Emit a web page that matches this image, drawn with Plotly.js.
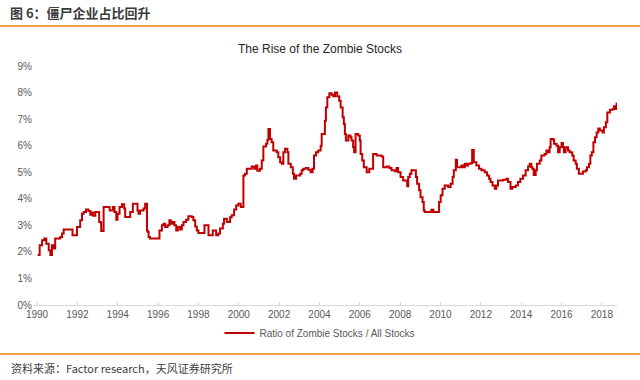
<!DOCTYPE html>
<html>
<head>
<meta charset="utf-8">
<script src="https://cdn.plot.ly/plotly-3.0.1.min.js"></script>
<style>html,body{margin:0;padding:0;background:#fff;}#chart{width:640px;height:380px;}</style>
</head>
<body>
<div id="chart"></div>
<script>
var years = [
1990.03,1990.13,1990.25,1990.36,1990.46,1990.58,1990.66,1990.74,1990.82,1990.90,
1991.15,1991.24,1991.32,1991.76,1991.98,1992.14,1992.23,1992.31,1992.43,1992.55,
1992.64,1992.72,1992.78,1992.89,1993.08,1993.17,1993.18,1993.30,1993.60,1993.76,
1993.84,1993.93,1993.99,1994.09,1994.21,1994.32,1994.37,1994.62,1994.75,1994.98,
1995.03,1995.11,1995.28,1995.36,1995.45,1995.49,1995.53,1995.60,1996.07,1996.19,
1996.27,1996.35,1996.47,1996.56,1996.63,1996.73,1996.81,1996.90,1996.98,1997.09,
1997.18,1997.26,1997.39,1997.50,1997.67,1997.75,1997.84,1997.92,1998.00,1998.30,
1998.50,1998.71,1998.88,1998.99,1999.07,1999.21,1999.27,1999.41,1999.57,1999.65,
1999.77,1999.87,1999.98,2000.10,2000.23,2000.31,2000.40,2000.64,2000.76,2000.86,
2000.92,2001.05,2001.14,2001.22,2001.35,2001.42,2001.47,2001.55,2001.63,2001.71,
2001.88,2001.96,2002.05,2002.13,2002.21,2002.29,2002.41,2002.46,2002.58,2002.68,
2002.74,2002.84,2003.04,2003.12,2003.20,2003.33,2003.45,2003.56,2003.66,2003.73,
2003.83,2003.94,2004.06,2004.11,2004.27,2004.32,2004.39,2004.49,2004.60,2004.68,
2004.77,2004.88,2004.98,2005.05,2005.15,2005.21,2005.26,2005.31,2005.43,2005.54,
2005.59,2005.67,2005.72,2005.79,2005.92,2006.00,2006.04,2006.12,2006.20,2006.34,
2006.47,2006.66,2006.83,2007.08,2007.16,2007.33,2007.46,2007.57,2007.74,2007.82,
2007.90,2008.02,2008.15,2008.35,2008.40,2008.48,2008.56,2008.78,2008.84,2008.94,
2009.01,2009.11,2009.17,2009.22,2009.55,2009.65,2009.93,2010.01,2010.10,2010.21,
2010.38,2010.50,2010.60,2010.66,2010.76,2010.82,2011.04,2011.12,2011.20,2011.29,
2011.37,2011.49,2011.57,2011.65,2011.78,2011.91,2012.03,2012.19,2012.31,2012.41,
2012.48,2012.58,2012.69,2012.77,2012.85,2013.10,2013.27,2013.35,2013.47,2013.56,
2013.73,2013.84,2013.96,2014.09,2014.22,2014.34,2014.42,2014.50,2014.55,2014.62,
2014.72,2014.78,2014.92,2015.00,2015.16,2015.25,2015.33,2015.41,2015.46,2015.58,
2015.63,2015.75,2015.83,2015.91,2016.00,2016.07,2016.12,2016.20,2016.32,2016.40,
2016.53,2016.60,2016.70,2016.76,2016.86,2017.06,2017.20,2017.26,2017.36,2017.43,
2017.50,2017.58,2017.66,2017.74,2017.82,2017.90,2018.04,2018.10,2018.20,2018.27,
2018.40,2018.54,2018.60,2018.66,2018.73
];
var ratio = [
1.88,2.25,2.44,2.50,2.31,2.06,1.88,2.25,2.13,2.50,
2.56,2.69,2.84,2.63,2.94,3.19,3.44,3.50,3.60,3.54,
3.40,3.48,3.36,3.50,3.13,3.06,2.79,3.69,3.56,3.69,
3.50,3.21,3.44,3.69,3.79,3.63,3.31,3.50,3.81,3.56,
3.44,3.56,3.63,3.81,2.81,2.75,2.56,2.50,2.81,3.00,
3.06,2.94,3.00,3.19,3.06,3.13,3.00,2.81,2.94,2.84,
3.00,3.13,3.21,3.34,3.31,3.19,2.96,2.81,2.71,3.00,
2.63,2.81,2.63,2.69,2.88,3.06,3.25,3.13,3.30,3.38,
3.60,3.75,3.81,3.69,4.88,4.94,5.13,5.22,5.13,5.25,
5.06,5.13,5.44,5.97,6.07,6.22,6.63,6.25,6.13,5.82,
5.75,5.56,5.38,5.32,5.75,5.88,5.75,5.32,5.19,4.94,
4.75,4.88,4.94,5.07,5.13,5.16,5.09,5.00,5.13,5.63,
5.75,5.82,6.00,6.44,6.94,7.44,7.82,7.97,7.92,7.86,
8.00,7.86,7.69,7.44,7.07,6.82,6.44,6.19,6.38,6.32,
6.19,5.94,5.75,6.44,6.38,6.19,5.69,5.44,5.19,5.00,
5.13,5.69,5.63,5.59,5.19,5.22,5.16,5.07,5.04,5.16,
5.00,4.82,4.69,4.47,4.82,4.94,5.07,4.82,4.57,4.32,
4.06,3.88,3.56,3.50,3.59,3.50,3.88,4.13,4.38,4.50,
4.44,4.57,4.82,5.07,5.47,5.19,5.25,5.19,5.32,5.25,
5.32,5.34,5.84,5.38,5.25,5.13,5.07,5.00,4.88,4.75,
4.63,4.50,4.38,4.50,4.69,4.72,4.75,4.63,4.38,4.44,
4.50,4.63,4.75,4.88,5.07,5.22,5.32,5.20,5.13,4.90,
5.07,5.32,5.44,5.63,5.69,5.82,5.75,5.94,6.25,6.23,
6.07,6.00,5.75,5.94,6.10,5.94,5.75,5.94,5.82,5.75,
5.63,5.44,5.32,5.13,4.94,5.03,5.07,5.19,5.32,5.63,
5.75,6.13,6.32,6.50,6.65,6.57,6.50,6.69,6.88,7.25,
7.35,7.38,7.48,7.38,7.63
];
var xTicks = [1990,1992,1994,1996,1998,2000,2002,2004,2006,2008,2010,2012,2014,2016,2018];
var xTickLabels = ["1990","1992","1994","1996","1998","2000","2002","2004","2006","2008","2010","2012","2014","2016","2018"];
var yTicks = [0,1,2,3,4,5,6,7,8,9];
var yTickLabels = ["0%","1%","2%","3%","4%","5%","6%","7%","8%","9%"];
var seriesName = "Ratio of Zombie Stocks / All Stocks";
var chartTitle = "The Rise of the Zombie Stocks";
var headerText = "图 6：僵尸企业占比回升";
var sourceText = "资料来源：Factor research，天风证券研究所";

var trace = {
  x: years, y: ratio, type: 'scatter', mode: 'lines', name: seriesName,
  line: {color: '#C00000', width: 2, shape: 'hv'}
};
var H = 239, L = 33, W = 584;
function py(px){ return (305 - px) / H; }
function pxx(px){ return (px - L) / W; }
var layout = {
  width: 640, height: 380,
  margin: {l: 33, r: 23, t: 66, b: 75, autoexpand: false},
  paper_bgcolor: '#ffffff', plot_bgcolor: '#ffffff',
  font: {family: 'Liberation Sans, Arial, sans-serif', size: 10, color: '#595959'},
  title: {text: chartTitle, x: 0.5, xref: 'container', y: 1 - 49/380, yref: 'container', yanchor: 'middle',
          font: {family: 'Liberation Sans, Arial, sans-serif', size: 12, color: '#262626'}},
  xaxis: {range: [1989.8, 2018.75], tickvals: xTicks, ticktext: xTickLabels, tickangle: 0, showgrid: false, zeroline: false,
          showline: true, linecolor: '#d9d9d9', linewidth: 1, ticks: 'inside', ticklen: 3, tickcolor: '#d9d9d9',
          tickfont: {size: 10, color: '#595959'}, automargin: false, fixedrange: true},
  yaxis: {range: [0, 9], tickvals: yTicks, ticktext: yTickLabels, showgrid: false, zeroline: false, showline: false,
          ticks: '', tickfont: {size: 10, color: '#595959'}, automargin: false, fixedrange: true},
  showlegend: true,
  legend: {orientation: 'h', x: pxx(320), xanchor: 'center', y: py(333), yanchor: 'middle',
           font: {size: 10, color: '#595959'}, itemwidth: 30, bgcolor: 'rgba(0,0,0,0)'},
  shapes: [
    {type: 'line', xref: 'paper', yref: 'paper', x0: pxx(0), x1: pxx(640), y0: py(26), y1: py(26),
     line: {color: '#F0A048', width: 2}},
    {type: 'line', xref: 'paper', yref: 'paper', x0: pxx(0), x1: pxx(640), y0: py(354), y1: py(354),
     line: {color: '#F0A048', width: 2}}
  ],
  annotations: [
    {text: '<b>' + headerText + '</b>', xref: 'paper', yref: 'paper', x: pxx(8), y: py(13), xanchor: 'left', yanchor: 'middle',
     showarrow: false, font: {family: 'Noto Sans CJK SC, sans-serif', size: 13, color: '#3a3a3a'}},
    {text: sourceText, xref: 'paper', yref: 'paper', x: pxx(9), y: py(368), xanchor: 'left', yanchor: 'middle',
     showarrow: false, font: {family: 'Noto Sans CJK SC, sans-serif', size: 11, color: '#404040'}}
  ]
};
Plotly.newPlot('chart', [trace], layout, {displayModeBar: false, staticPlot: true});
</script>
</body>
</html>
